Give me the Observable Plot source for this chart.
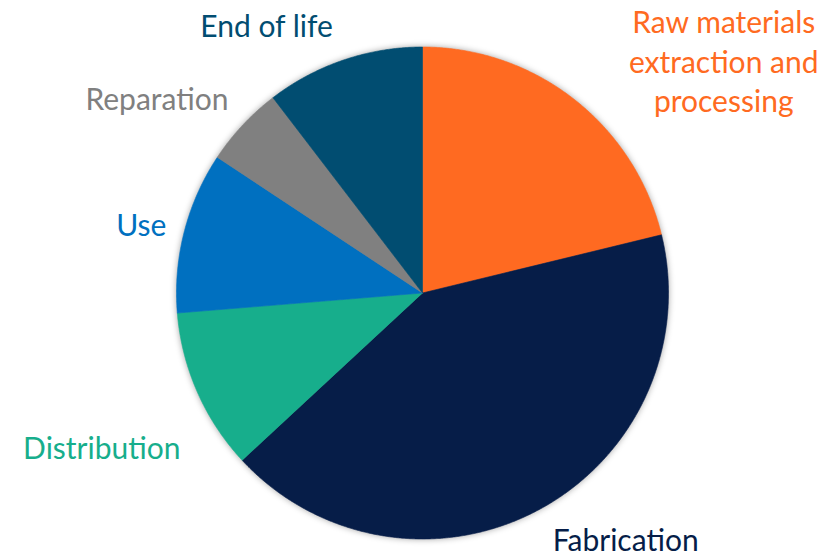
<!DOCTYPE html>
<html>
<head>
<meta charset="utf-8">
<script src="https://cdn.jsdelivr.net/npm/d3@7"></script>
<script src="https://cdn.jsdelivr.net/npm/@observablehq/plot@0.6"></script>
<style>
  html, body { margin: 0; padding: 0; background: #ffffff; }
  #chart { width: 838px; height: 556px; }
</style>
</head>
<body>
<div id="chart"></div>
<script>
// ---- data ----
const categories = ["Raw materials extraction and processing", "Fabrication", "Distribution", "Use", "Reparation", "End of life"];
const labels = ["Raw materials\nextraction and\nprocessing", "Fabrication", "Distribution", "Use", "Reparation", "End of life"];
const values = [21.2, 41.9, 10.6, 10.6, 5.3, 10.4];
const colors = ["#FF6A21", "#061D48", "#17AE8C", "#0070C0", "#808080", "#014D71"];

// ---- label layout (polar nudges from slice mid-angle) ----
const labelLayout = {
  "Raw materials extraction and processing": {r: 1.54, da: 14.5},
  "Fabrication": {r: 1.305, da: -11},
  "Distribution": {r: 1.45, da: -2.2},
  "Use": {r: 1.175, da: -1},
  "Reparation": {r: 1.333, da: -7.1},
  "End of life": {r: 1.252, da: -11.7}
};

const rows = categories.map((name, i) => ({name, label: labels[i], value: values[i]}));
const arcs = d3.pie().sort(null).value(d => d.value)(rows);

// slice polygons derived from pie angles
const slicePoints = [];
for (const a of arcs) {
  const name = a.data.name;
  slicePoints.push({name, x: 0, y: 0});
  const n = Math.max(8, Math.ceil((a.endAngle - a.startAngle) / 0.005));
  for (let k = 0; k <= n; k++) {
    const t = a.startAngle + (a.endAngle - a.startAngle) * k / n;
    slicePoints.push({name, x: Math.sin(t), y: Math.cos(t)});
  }
  slicePoints.push({name, x: 0, y: 0});
}

const labelRows = arcs.map(a => {
  const L = labelLayout[a.data.name];
  const mid = (a.startAngle + a.endAngle) / 2 + L.da * Math.PI / 180;
  return {name: a.data.name, label: a.data.label, x: L.r * Math.sin(mid), y: L.r * Math.cos(mid)};
});

const chart = Plot.plot({
  width: 838,
  height: 556,
  marginLeft: 176,
  marginRight: 170,
  marginTop: 46.5,
  marginBottom: 17.5,
  x: {domain: [-1, 1], axis: null},
  y: {domain: [-1, 1], axis: null},
  color: {domain: categories, range: colors},
  style: {background: "#ffffff", overflow: "visible"},
  marks: [
    Plot.line(slicePoints, {x: "x", y: "y", z: "name", fill: "name", stroke: "name", strokeWidth: 0.6, curve: "linear"}),
    Plot.text(labelRows, {x: "x", y: "y", text: "label", fill: "name", fontSize: 30, fontFamily: "Lato", lineHeight: 1.32, textAnchor: "middle", lineAnchor: "middle", dy: -3})
  ]
});

const g = chart.querySelector('g[aria-label="line"]');
if (g) g.style.filter = "drop-shadow(0px 0px 3px rgba(0,0,0,0.35))";
document.getElementById("chart").appendChild(chart);
</script>
</body>
</html>
